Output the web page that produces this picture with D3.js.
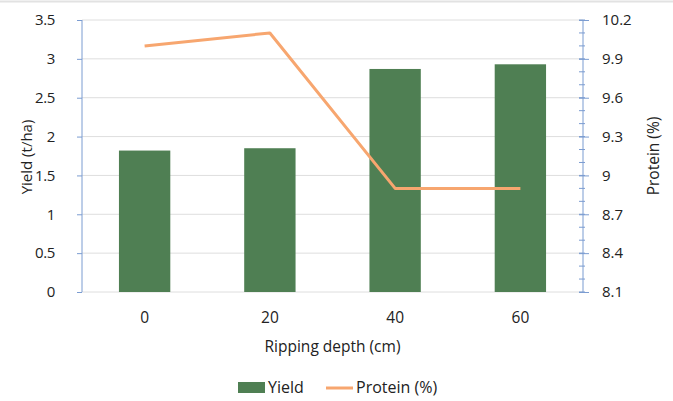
<!DOCTYPE html>
<html>
<head>
  <script src="https://d3js.org/d3.v7.min.js"></script>
  <style>
    body { margin: 0; background: #fff; }
    text { font-family: "Open Sans", sans-serif; fill: #222; }
  </style>
</head>
<body>
  <div id="chart"></div>
  <script>
    var depths = ["0", "20", "40", "60"];
    var yieldVals = [1.82, 1.85, 2.87, 2.93];
    var proteinVals = [10.0, 10.1, 8.9, 8.9];
    var yieldTicks = [0, 0.5, 1, 1.5, 2, 2.5, 3, 3.5];
    var proteinTicks = [8.1, 8.4, 8.7, 9, 9.3, 9.6, 9.9, 10.2];

    var W = 673, H = 401;
    var margin = {top: 20, right: 90, bottom: 109, left: 82},
        width = W - margin.left - margin.right,
        height = H - margin.top - margin.bottom;

    var svg = d3.select("#chart").append("svg")
      .attr("width", W).attr("height", H);

    svg.append("line")
      .attr("x1", 0).attr("x2", W).attr("y1", 1.5).attr("y2", 1.5)
      .attr("stroke", "#e2e2e2").attr("stroke-width", 2);

    var g = svg.append("g")
      .attr("transform", "translate(" + margin.left + "," + margin.top + ")");

    var x = d3.scaleBand().domain(depths).range([0, width]).paddingInner(0.59).paddingOuter(0.295);
    var y = d3.scaleLinear().domain([0, 3.5]).range([height, 0]);
    var y2 = d3.scaleLinear().domain([8.1, 10.2]).range([height, 0]);

    // gridlines
    g.selectAll(".grid").data(yieldTicks).enter().append("line")
      .attr("x1", 0).attr("x2", width)
      .attr("y1", function(d) { return y(d); }).attr("y2", function(d) { return y(d); })
      .attr("stroke", "#dedede").attr("stroke-width", 1);

    // bars
    g.selectAll(".bar").data(yieldVals).enter().append("rect")
      .attr("x", function(d, i) { return x(depths[i]); })
      .attr("y", function(d) { return y(d); })
      .attr("width", x.bandwidth())
      .attr("height", function(d) { return height - y(d); })
      .attr("fill", "#4f7f53");

    // protein line
    var line = d3.line()
      .x(function(d, i) { return x(depths[i]) + x.bandwidth() / 2; })
      .y(function(d) { return y2(d); });
    g.append("path").datum(proteinVals)
      .attr("d", line)
      .attr("fill", "none").attr("stroke", "#f7a66f").attr("stroke-width", 3)
      .attr("stroke-linejoin", "round");

    var axisColor = "#7b9cd1";

    // left axis
    var yAxis = g.append("g")
      .call(d3.axisLeft(y).tickValues(yieldTicks).tickFormat(d3.format("")).tickSize(5).tickPadding(22));
    yAxis.select(".domain").attr("stroke", axisColor).attr("d", "M0,0V" + height);
    yAxis.selectAll(".tick line").attr("stroke", axisColor);
    yAxis.selectAll("text").style("font-size", "15px").style("letter-spacing", "-0.4px");

    // right axis minor ticks
    var minor = d3.range(81, 103).map(function(v) { return v / 10; });
    g.append("g").selectAll("line").data(minor).enter().append("line")
      .attr("x1", width - 4).attr("x2", width + 2)
      .attr("y1", function(d) { return y2(d); }).attr("y2", function(d) { return y2(d); })
      .attr("stroke", axisColor);

    var y2Axis = g.append("g")
      .attr("transform", "translate(" + width + ",0)")
      .call(d3.axisRight(y2).tickValues(proteinTicks).tickFormat(d3.format("")).tickSize(6).tickPadding(13));
    y2Axis.select(".domain").attr("stroke", axisColor).attr("d", "M0,0V" + height);
    y2Axis.selectAll(".tick line").attr("stroke", axisColor).attr("x1", -4);
    y2Axis.selectAll("text").style("font-size", "15px");

    // x axis labels
    var xAxis = g.append("g")
      .attr("transform", "translate(0," + height + ")")
      .call(d3.axisBottom(x).tickSize(0).tickPadding(20));
    xAxis.select(".domain").remove();
    xAxis.selectAll("text").style("font-size", "15.5px");

    // titles
    svg.append("text")
      .attr("x", margin.left + width / 2).attr("y", 352)
      .attr("text-anchor", "middle").style("font-size", "15.5px")
      .text("Ripping depth (cm)");

    svg.append("text")
      .attr("transform", "translate(32," + (margin.top + height / 2 + 1) + ") rotate(-90)")
      .attr("text-anchor", "middle").style("font-size", "15px")
      .text("Yield (t/ha)");

    svg.append("text")
      .attr("transform", "translate(659," + (margin.top + height / 2) + ") rotate(-90)")
      .attr("text-anchor", "middle").style("font-size", "15.5px")
      .text("Protein (%)");

    // legend
    var leg = svg.append("g");
    leg.append("rect").attr("x", 238).attr("y", 382).attr("width", 27).attr("height", 11).attr("fill", "#4f7f53");
    leg.append("text").attr("x", 268).attr("y", 393).style("font-size", "16px").text("Yield");
    leg.append("line").attr("x1", 326).attr("x2", 353).attr("y1", 388).attr("y2", 388)
      .attr("stroke", "#f7a66f").attr("stroke-width", 3);
    leg.append("text").attr("x", 356).attr("y", 393).style("font-size", "16px").text("Protein (%)");
  </script>
</body>
</html>
